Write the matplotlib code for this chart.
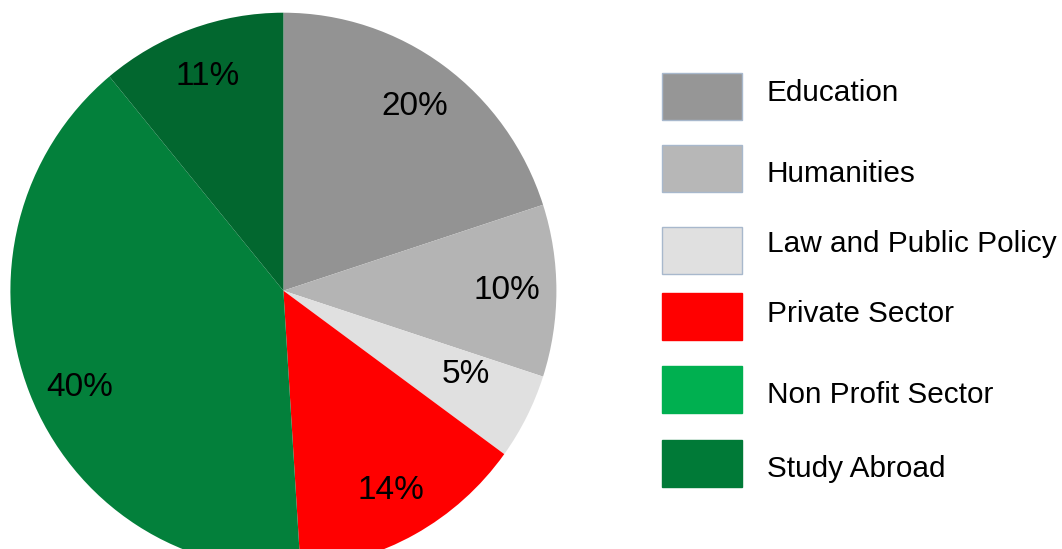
import matplotlib
matplotlib.use("Agg")
import matplotlib.pyplot as plt
from matplotlib.patches import Rectangle

plt.rcParams['font.family'] = ['Liberation Sans', 'DejaVu Sans']

# data
labels = ['Education', 'Humanities', 'Law and Public Policy',
          'Private Sector', 'Non Profit Sector', 'Study Abroad']
values = [20, 10, 5, 14, 40, 11]
pie_colors = ['#939393', '#b4b4b4', '#e0e0e0', '#ff0000', '#03803b', '#02672f']
legend_colors = ['#969696', '#b7b7b7', '#e0e0e0', '#ff0000', '#00b050', '#007a37']

W, H = 1062, 549
fig = plt.figure(figsize=(W / 100, H / 100), dpi=100)

# pie axes: slightly taller than wide, centre ~ (283, 291) px
ax = fig.add_axes([10.4 / W, -19.7 / H, 546 / W, 556 / H])
wedges, texts, autotexts = ax.pie(values, colors=pie_colors, startangle=90,
                                  counterclock=False, radius=1,
                                  autopct='%d%%', pctdistance=0.82,
                                  wedgeprops=dict(linewidth=0),
                                  textprops=dict(fontsize=24, color='black'))
# a couple of labels sit off the default spot
autotexts[2].set_position((0.67, -0.30))
autotexts[4].set_position((-0.745, -0.35))
ax.set_xlim(-1, 1)
ax.set_ylim(-1, 1)
ax.set_aspect('auto')
ax.axis('off')
for w in wedges:
    w.set_clip_on(False)

# legend, drawn by hand
lg = fig.add_axes([650 / W, 0, 412 / W, 1])
lg.set_xlim(650, 1062)
lg.set_ylim(549, 0)
lg.axis('off')
box_tops = [73, 145, 227, 293, 366, 440]
box_h = 47
baselines = [101, 182, 252, 322, 403, 477]
for i, lab in enumerate(labels):
    edge = '#a8b8cc' if i < 3 else legend_colors[i]
    lg.add_patch(Rectangle((662, box_tops[i]), 80, box_h,
                           facecolor=legend_colors[i], edgecolor=edge, linewidth=1))
    lg.text(767, baselines[i], lab, fontsize=21.4, va='baseline', ha='left', color='black')

fig.savefig('out.png', dpi=100)
